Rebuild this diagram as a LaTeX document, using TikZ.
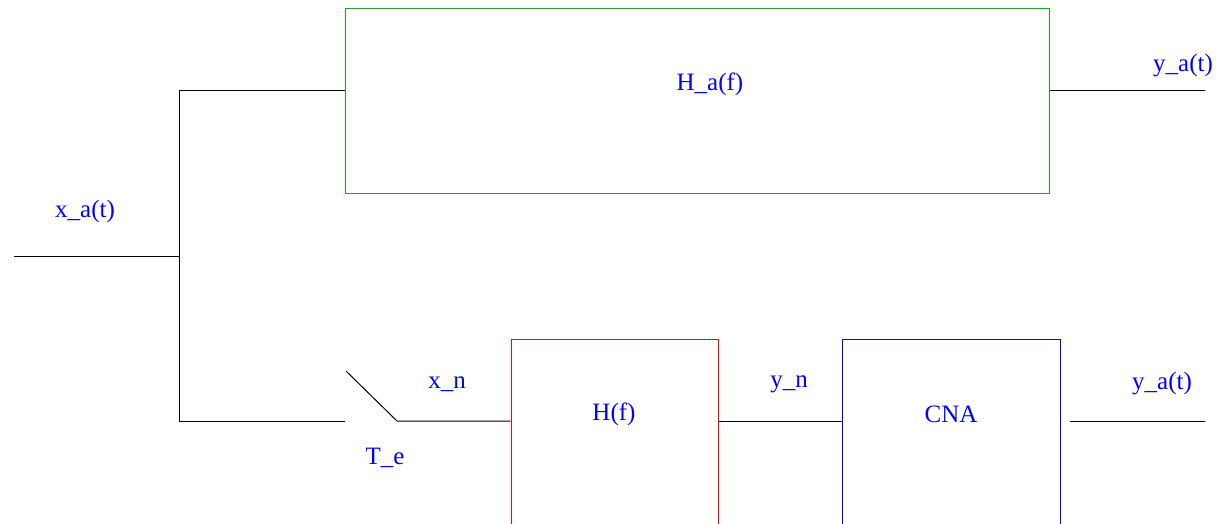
\documentclass[tikz,border=0pt]{standalone}
\usepackage{fontspec}
\setmainfont{Liberation Serif}
\begin{document}
\begin{tikzpicture}[x=1pt,y=-1pt,
  wire/.style={line width=1pt,black},
  lbl/.style={text=blue,font=\fontsize{25}{27}\selectfont,inner sep=0pt},
  blockbox/.style={draw,line width=1pt,minimum width=#1,inner sep=0pt}]
\useasboundingbox (0,0) rectangle (1218,523);
\clip (0,0) rectangle (1218,523);
% blocks
\node[blockbox=704pt,minimum height=185pt,draw={rgb,255:red,40;green,160;blue,40}] (Ha) at (697,100.5) {};
\node[blockbox=207pt,minimum height=201pt,draw=red] (Hf) at (614.5,439.5) {};
\node[blockbox=218pt,minimum height=201pt,draw=blue] (cna) at (951,439.5) {};
% coordinates
\coordinate (in) at (14,256);
\coordinate (j) at (179,256);
\coordinate (jt) at (179,90);
\coordinate (jb) at (179,421);
\coordinate (sw1) at (345,421);
\coordinate (swa) at (346,371);
\coordinate (swb) at (397,421);
\coordinate (out1) at (1205,90);
\coordinate (c2s) at (1070,421);
\coordinate (out2) at (1205,421);
% wires
\draw[wire] (in) -- (j);
\draw[wire] (jt) -- (jb);
\draw[wire] (jt) -- (Ha.west |- jt);
\draw[wire] (Ha.east |- out1) -- (out1);
\draw[wire] (jb) -- (sw1);
\draw[wire] (swa) -- (swb) -- (Hf.west |- swb);
\draw[wire] (Hf.east |- swb) -- (cna.west |- swb);
\draw[wire] (c2s) -- (out2);
% labels
\node[lbl] (tHa) at (710,84) {H\_a(f)};
\node[lbl] (txa) at (85,211) {x\_a(t)};
\node[lbl] (tya1) at (1183,66) {y\_a(t)};
\node[lbl] (txn) at (447,384) {x\_n};
\node[lbl] (tTe) at (385,458) {T\_e};
\node[lbl] (tHf) at (614,414) {H(f)};
\node[lbl] (tyn) at (789,384) {y\_n};
\node[lbl] (tcna) at (951,414) {CNA};
\node[lbl] (tya2) at (1162,384) {y\_a(t)};
\end{tikzpicture}
\end{document}
